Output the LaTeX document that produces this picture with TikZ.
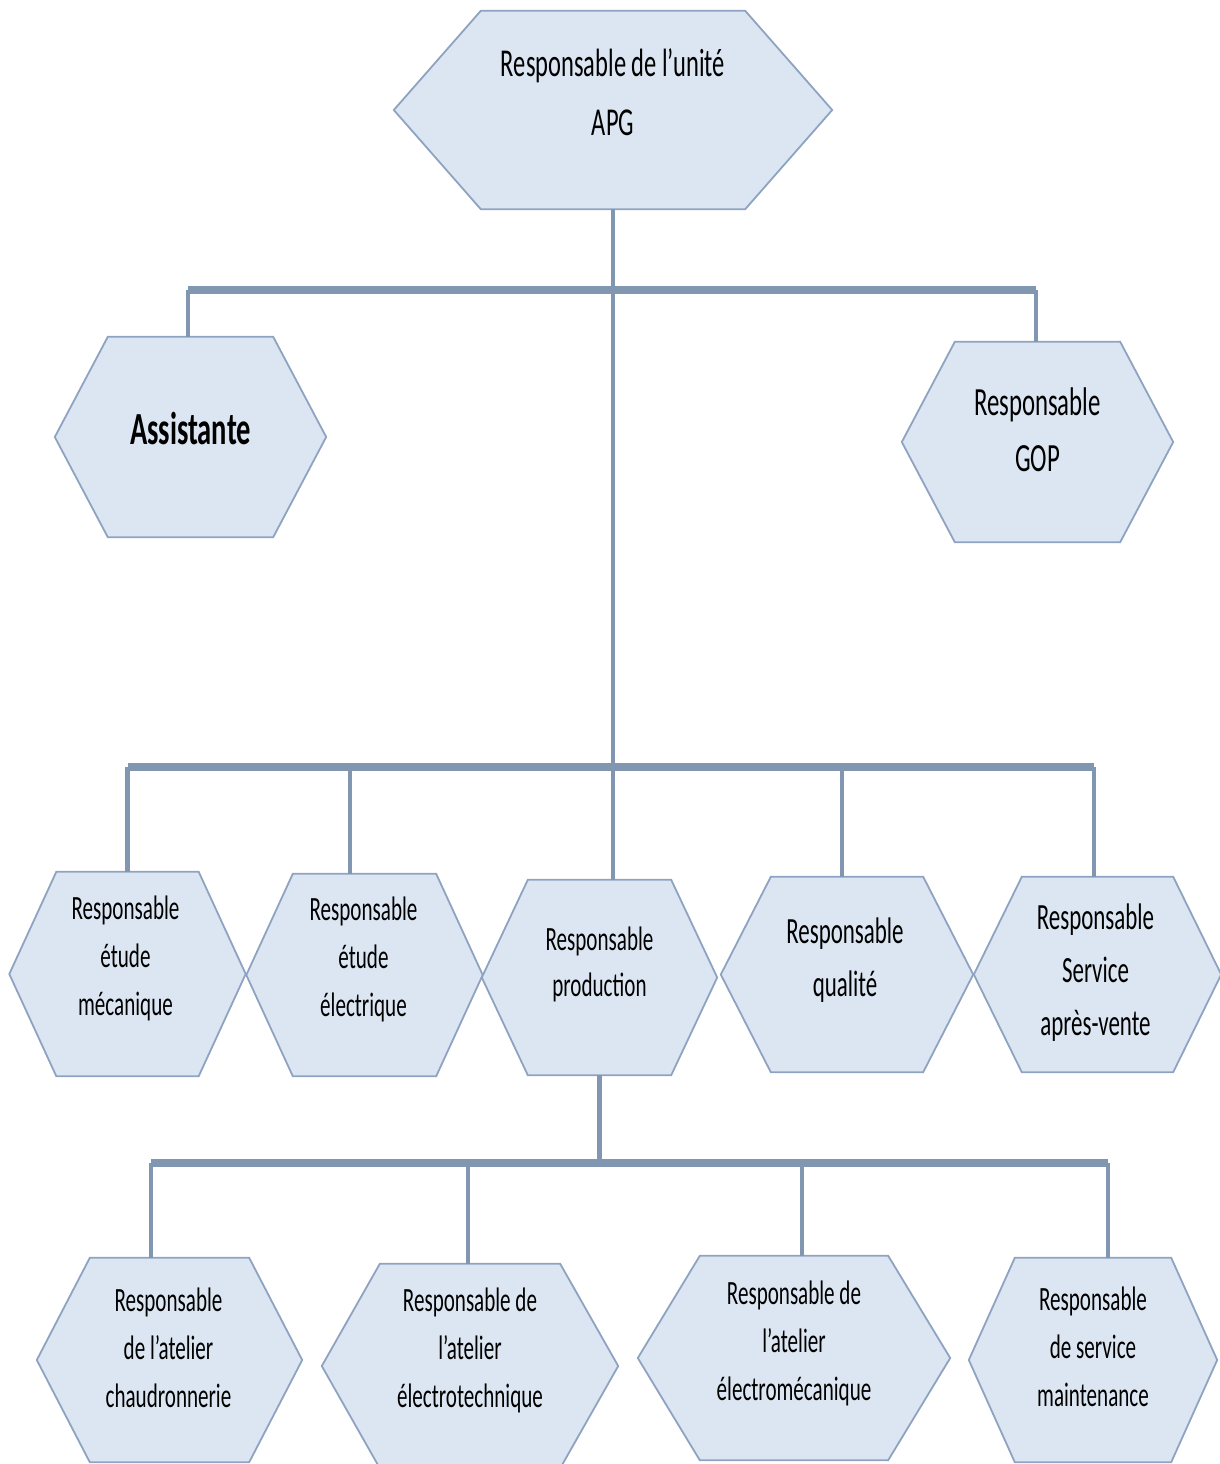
\documentclass[tikz,border=0pt]{standalone}
\usepackage{fontspec}
\setmainfont{Carlito}[FakeStretch=0.62]
\definecolor{hexfill}{HTML}{DCE6F2}
\definecolor{hexborder}{HTML}{8EA3C1}
\definecolor{linkcol}{HTML}{8196B1}
\tikzset{
  hexbox/.style 2 args={rectangle, inner sep=0pt, minimum width=#1, minimum height=#2},
  hexline/.style={draw=hexborder, fill=hexfill, line width=1.8pt, line join=miter},
  txt/.style={align=center, text=black, inner sep=0pt},
  bar/.style={draw=linkcol, line width=7.5pt},
  link/.style={draw=linkcol, line width=4.5pt},
}
\begin{document}
\begin{tikzpicture}[x=1pt,y=-1pt]
\useasboundingbox (0,0) rectangle (1220,1464);

% hexagon frames (top edge width, height); side tips added below
\node[hexbox={264}{198}] (root)   at (613,110)    {};
\node[hexbox={165}{200}] (assist) at (190.5,437)  {};
\node[hexbox={165}{200}] (gop)    at (1037.5,442) {};
\node[hexbox={142}{204}] (em)     at (127.5,974)  {};
\node[hexbox={143}{202}] (ee)     at (364.5,975)  {};
\node[hexbox={143}{195}] (prod)   at (599.5,977.5){};
\node[hexbox={152}{195}] (qual)   at (847,974.5)  {};
\node[hexbox={151}{195}] (sav)    at (1097.5,974.5){};
\node[hexbox={159}{204}] (chaud)  at (169.5,1360) {};
\node[hexbox={180}{204}] (etech)  at (470,1366)   {};
\node[hexbox={188}{204}] (emeca)  at (794,1358)   {};
\node[hexbox={156}{204}] (maint)  at (1093,1360)  {};

\foreach \n/\t in {root/87, assist/53, gop/53, em/47, ee/46.5, prod/46,
                   qual/50, sav/48, chaud/53, etech/58, emeca/62, maint/46}
  \draw[hexline] (\n.north west) -- (\n.north east) -- ([xshift=\t]\n.east)
     -- (\n.south east) -- (\n.south west) -- ([xshift=-\t]\n.west) -- cycle;

% labels
\node[txt, font=\fontsize{39.5}{59}\selectfont] (root-t) at ([yshift=17.5]root.center)
  {Responsable de l’unité\\APG};
\node[txt, font=\fontsize{46}{50}\bfseries\selectfont] (assist-t) at ([yshift=8]assist.center)
  {Assistante};
\node[txt, font=\fontsize{40}{56}\selectfont] (gop-t) at ([yshift=12]gop.center)
  {Responsable\\GOP};
\node[txt, font=\fontsize{34}{48}\selectfont] (em-t) at ([xshift=-2,yshift=16]em.center)
  {Responsable\\étude\\mécanique};
\node[txt, font=\fontsize{34}{48}\selectfont] (ee-t) at ([xshift=-1,yshift=16]ee.center)
  {Responsable\\étude\\électrique};
\node[txt, font=\fontsize{34}{46}\selectfont] (prod-t) at ([yshift=13.5]prod.center)
  {Responsable\\production};
\node[txt, font=\fontsize{37}{53}\selectfont] (qual-t) at ([xshift=-2,yshift=14]qual.center)
  {Responsable\\qualité};
\node[txt, font=\fontsize{37}{53}\selectfont] (sav-t) at ([xshift=-2,yshift=2]sav.center)
  {Responsable\\Service\\après-vente};
\node[txt, font=\fontsize{34}{48}\selectfont] (chaud-t) at ([xshift=-1,yshift=12]chaud.center)
  {Responsable\\de l’atelier\\chaudronnerie};
\node[txt, font=\fontsize{34}{48}\selectfont] (etech-t) at ([yshift=16]etech.center)
  {Responsable de\\l’atelier\\électrotechnique};
\node[txt, font=\fontsize{34}{48}\selectfont] (emeca-t) at ([yshift=15]emeca.center)
  {Responsable de\\l’atelier\\électromécanique};
\node[txt, font=\fontsize{34}{48}\selectfont] (maint-t) at ([yshift=13]maint.center)
  {Responsable\\de service\\maintenance};

% junction levels of the tree
\coordinate (j1) at (613,290);
\coordinate (j2) at (613,767);
\coordinate (j3) at (600,1163);

% first level
\draw[link] (root.south) -- (j2);
\draw[bar] ([xshift=-2.5]assist.north |- j1) -- ([xshift=-1.5]gop.north |- j1);
\draw[link] ([xshift=-2.5]assist.north) -- ([xshift=-2.5]assist.north |- j1);
\draw[link] ([xshift=-1.5]gop.north) -- ([xshift=-1.5]gop.north |- j1);

% second level
\draw[bar] (em.north |- j2) -- ([xshift=-3.5]sav.north |- j2);
\draw[link] (em.north) -- (em.north |- j2);
\draw[link] ([xshift=-14.5]ee.north) -- ([xshift=-14.5]ee.north |- j2);
\draw[link] (j2) -- (j2 |- prod.north);
\draw[link] ([xshift=-5]qual.north) -- ([xshift=-5]qual.north |- j2);
\draw[link] ([xshift=-3.5]sav.north) -- ([xshift=-3.5]sav.north |- j2);

% third level
\draw[link] (prod.south) -- (prod.south |- j3);
\draw[bar] ([xshift=-18.5]chaud.north |- j3) -- ([xshift=15]maint.north |- j3);
\draw[link] ([xshift=-18.5]chaud.north) -- ([xshift=-18.5]chaud.north |- j3);
\draw[link] ([xshift=-2]etech.north) -- ([xshift=-2]etech.north |- j3);
\draw[link] ([xshift=8]emeca.north) -- ([xshift=8]emeca.north |- j3);
\draw[link] ([xshift=15]maint.north) -- ([xshift=15]maint.north |- j3);
\end{tikzpicture}
\end{document}
